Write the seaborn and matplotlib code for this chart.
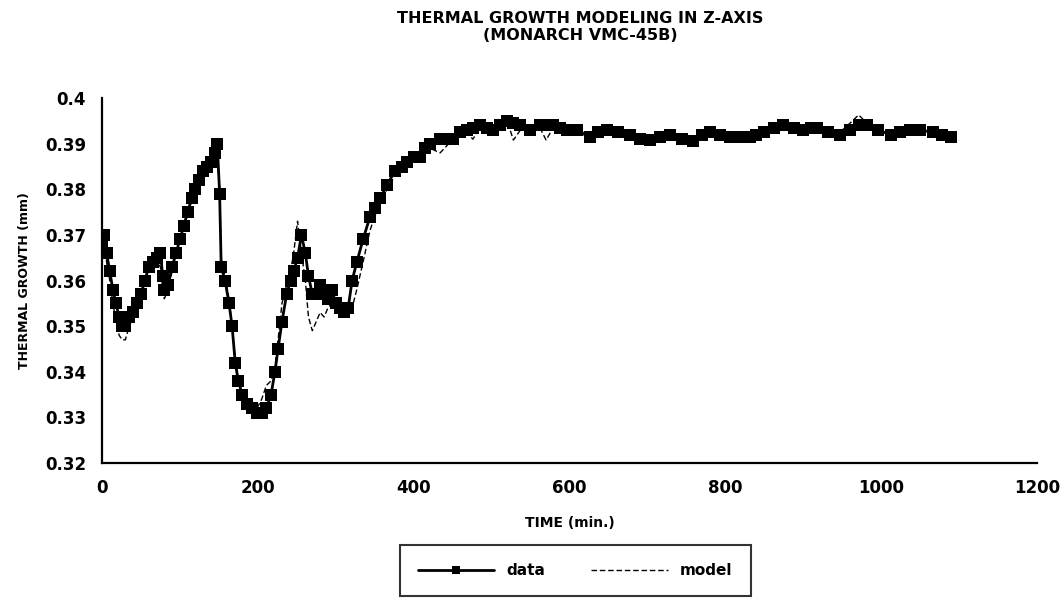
import matplotlib
matplotlib.use("Agg")
import matplotlib.pyplot as plt
import seaborn as sns
import pandas as pd
from matplotlib.ticker import FuncFormatter

# ---- data ----
time_min = [0, 3, 6, 10, 14, 18, 22, 26, 30, 35, 40, 45, 50, 55, 60, 65, 70, 75, 78, 80,
            85, 90, 95, 100, 105, 110, 115, 120, 125, 130, 135, 140, 145, 148, 151, 153,
            158, 163, 167, 171, 175, 180, 186, 192, 199, 205, 211, 217, 222, 226, 231,
            237, 242, 246, 251, 256, 261, 265, 270, 275, 280, 285, 290, 295, 300, 305,
            310, 316, 321, 327, 335, 344, 350, 357, 366, 376, 385, 391, 400, 408, 415,
            421, 434, 445, 451, 460, 468, 476, 485, 494, 502, 511, 520, 528, 537, 549,
            562, 570, 579, 588, 597, 610, 626, 637, 648, 662, 678, 690, 703, 716, 729,
            745, 759, 770, 780, 793, 806, 820, 832, 840, 849, 862, 874, 888, 900, 910,
            918, 932, 947, 960, 971, 982, 996, 1012, 1024, 1037, 1050, 1067, 1078, 1089]

data_mm = [0.368, 0.370, 0.366, 0.362, 0.358, 0.355, 0.352, 0.350, 0.350, 0.352, 0.353,
           0.355, 0.357, 0.360, 0.363, 0.364, 0.365, 0.366, 0.361, 0.358, 0.359, 0.363,
           0.366, 0.369, 0.372, 0.375, 0.378, 0.380, 0.382, 0.384, 0.385, 0.386, 0.388,
           0.390, 0.379, 0.363, 0.360, 0.355, 0.350, 0.342, 0.338, 0.335, 0.333, 0.332,
           0.331, 0.331, 0.332, 0.335, 0.340, 0.345, 0.351, 0.357, 0.360, 0.362, 0.365,
           0.370, 0.366, 0.361, 0.357, 0.357, 0.359, 0.357, 0.356, 0.358, 0.355, 0.354,
           0.353, 0.354, 0.360, 0.364, 0.369, 0.374, 0.376, 0.378, 0.381, 0.384, 0.385,
           0.386, 0.387, 0.387, 0.389, 0.390, 0.391, 0.391, 0.391, 0.3925, 0.393, 0.3935,
           0.394, 0.3935, 0.393, 0.394, 0.395, 0.3945, 0.394, 0.393, 0.394, 0.394, 0.394,
           0.3935, 0.393, 0.393, 0.3915, 0.3925, 0.393, 0.3925, 0.392, 0.391, 0.3908,
           0.3915, 0.392, 0.391, 0.3905, 0.392, 0.3925, 0.392, 0.3915, 0.3915, 0.3915,
           0.392, 0.3925, 0.3935, 0.394, 0.3935, 0.393, 0.3935, 0.3935, 0.3925, 0.392,
           0.393, 0.394, 0.394, 0.393, 0.392, 0.3925, 0.393, 0.393, 0.3925, 0.392, 0.3915]

model_mm = [0.366, 0.368, 0.364, 0.360, 0.355, 0.351, 0.348, 0.347, 0.347, 0.350, 0.352,
            0.355, 0.357, 0.360, 0.362, 0.364, 0.364, 0.363, 0.358, 0.356, 0.358, 0.362,
            0.366, 0.369, 0.372, 0.375, 0.377, 0.379, 0.381, 0.383, 0.384, 0.385, 0.386,
            0.386, 0.381, 0.365, 0.361, 0.356, 0.350, 0.343, 0.338, 0.335, 0.333, 0.332,
            0.332, 0.334, 0.337, 0.338, 0.341, 0.347, 0.355, 0.359, 0.362, 0.366, 0.373,
            0.366, 0.360, 0.352, 0.349, 0.351, 0.353, 0.352, 0.354, 0.355, 0.354, 0.353,
            0.352, 0.352, 0.354, 0.358, 0.364, 0.371, 0.374, 0.377, 0.380, 0.383, 0.385,
            0.386, 0.386, 0.387, 0.388, 0.389, 0.388, 0.390, 0.391, 0.392, 0.3925, 0.391,
            0.3935, 0.394, 0.393, 0.3935, 0.395, 0.3908, 0.393, 0.393, 0.3935, 0.3908, 0.3935,
            0.393, 0.3935, 0.3925, 0.3915, 0.393, 0.3925, 0.392, 0.392, 0.391, 0.391,
            0.392, 0.392, 0.391, 0.391, 0.3925, 0.3925, 0.392, 0.3915, 0.392, 0.392,
            0.392, 0.393, 0.394, 0.3935, 0.393, 0.393, 0.3935, 0.3935, 0.392, 0.3925,
            0.3945, 0.3963, 0.3945, 0.393, 0.392, 0.393, 0.3935, 0.393, 0.393, 0.3925, 0.392]

x_ticks = [0, 200, 400, 600, 800, 1000, 1200]
y_ticks = [0.32, 0.33, 0.34, 0.35, 0.36, 0.37, 0.38, 0.39, 0.40]

title_text = "THERMAL GROWTH MODELING IN Z-AXIS\n(MONARCH VMC-45B)"
x_label = "TIME (min.)"
y_label = "THERMAL GROWTH (mm)"

df = pd.DataFrame({"time": time_min, "data": data_mm, "model": model_mm})

sns.set_theme(style="white")
plt.rcParams["font.family"] = ["DejaVu Sans"]
plt.rcParams["text.color"] = "black"
plt.rcParams["axes.labelcolor"] = "black"
plt.rcParams["xtick.color"] = "black"
plt.rcParams["ytick.color"] = "black"

fig = plt.figure(figsize=(10.6, 6.02), dpi=100)
ax = fig.add_axes([0.0962, 0.231, 0.8821, 0.606])

sns.lineplot(data=df, x="time", y="data", ax=ax, color="black", linewidth=2.0,
             marker="s", markersize=8.5, markeredgewidth=0, label="data")
sns.lineplot(data=df, x="time", y="model", ax=ax, color="black", linewidth=1.0,
             linestyle=(0, (4, 2)), label="model")

ax.set_xlim(0, 1200)
ax.set_ylim(0.32, 0.40)
ax.set_xticks(x_ticks)
ax.set_yticks(y_ticks)
ax.yaxis.set_major_formatter(FuncFormatter(lambda v, p: f"{v:g}"))
for s in ["top", "right"]:
    ax.spines[s].set_visible(False)
for s in ["left", "bottom"]:
    ax.spines[s].set_color("black")
    ax.spines[s].set_linewidth(1.6)
ax.tick_params(axis="both", direction="inout", length=7, width=1.4, color="black",
               labelsize=12, pad=8)
for lab in ax.get_xticklabels() + ax.get_yticklabels():
    lab.set_fontweight("bold")

ax.set_xlabel(x_label, fontsize=10, fontweight="bold", labelpad=14)
ax.set_ylabel(y_label, fontsize=9, fontweight="bold", labelpad=10)

fig.text(0.547, 0.955, title_text, ha="center", va="center", fontsize=11.5,
         fontweight="bold", linespacing=1.15)

leg = ax.legend(loc="upper center", bbox_to_anchor=(0.506, -0.203), ncol=2, frameon=True,
                fancybox=False, edgecolor="black", handlelength=5.0, numpoints=1,
                columnspacing=3.0, borderpad=1.2, prop={"weight": "bold", "size": 11})
leg.get_frame().set_linewidth(1.5)
for line in leg.get_lines():
    line.set_markersize(6)

fig.savefig("out.png", dpi=100)
